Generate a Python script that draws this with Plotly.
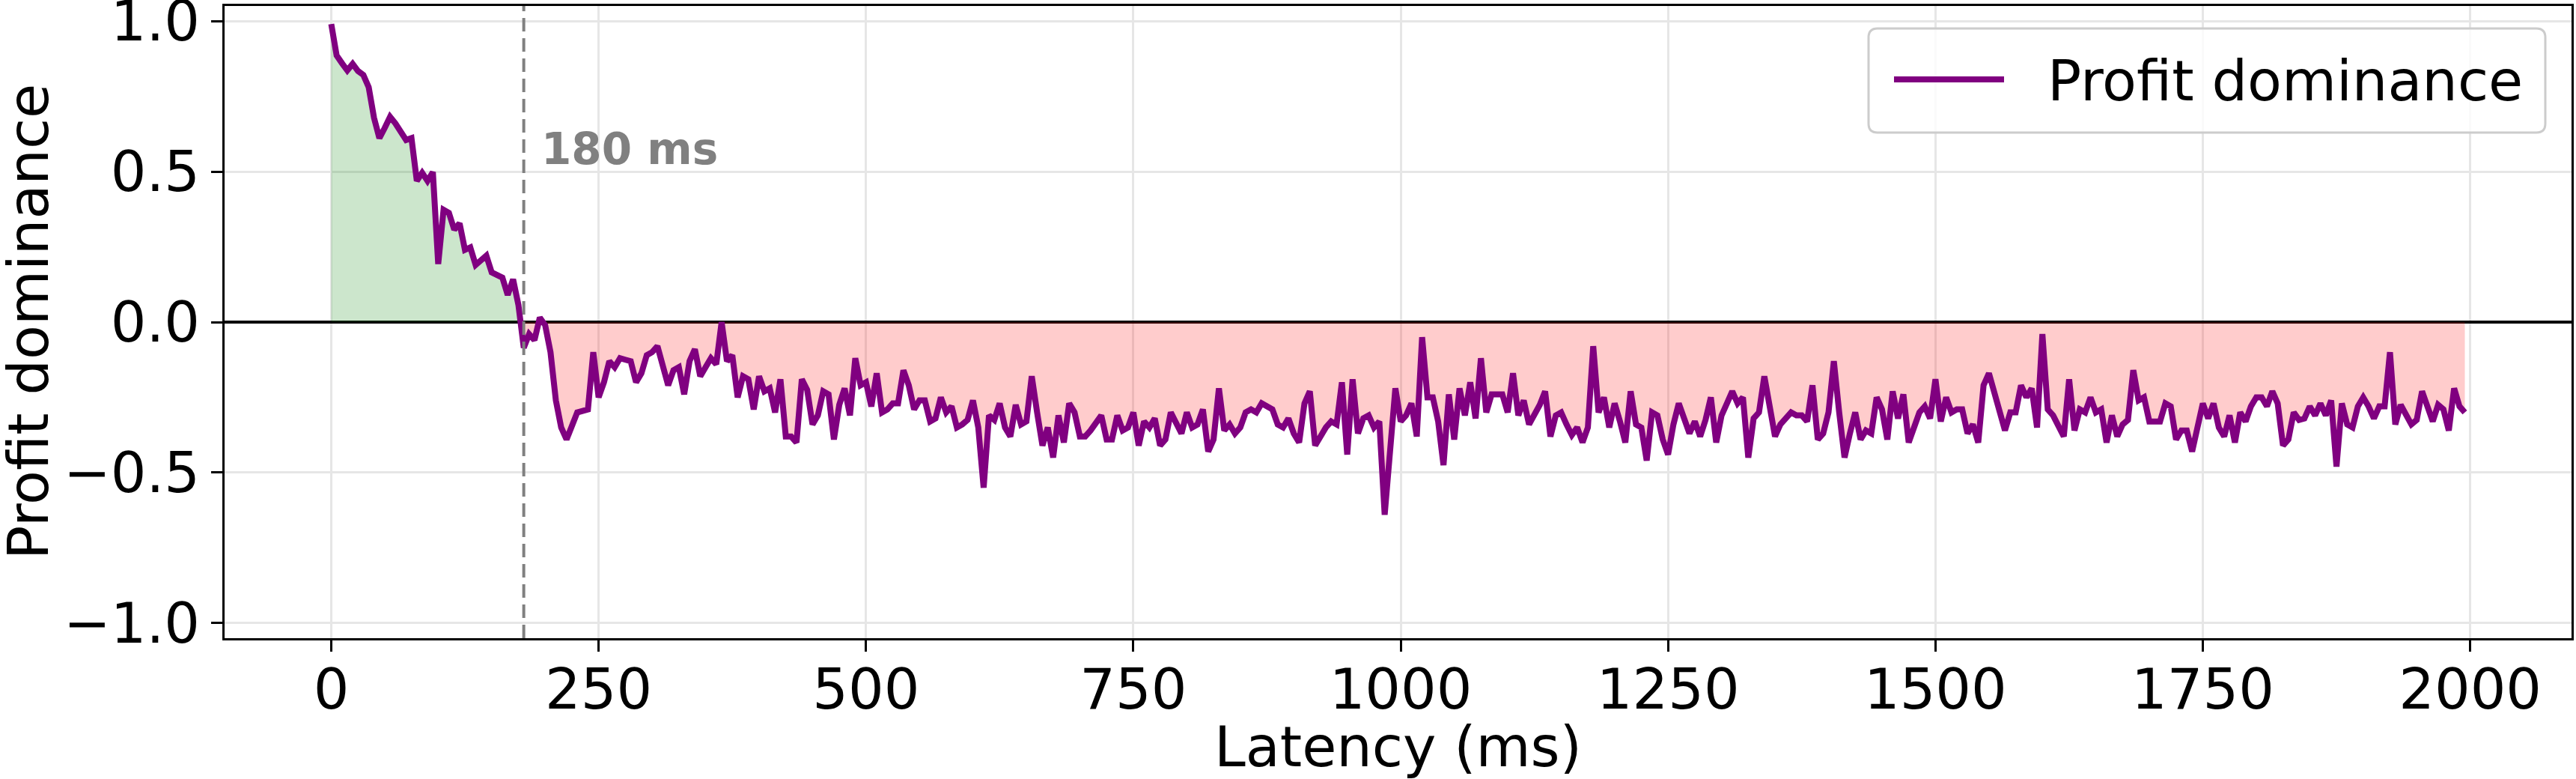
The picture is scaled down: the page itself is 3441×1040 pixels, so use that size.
import plotly.graph_objects as go

# ---------------- data ----------------
latency_ms = list(range(0, 2000, 5))
profit_dominance = [
    0.99, 0.886, 0.86, 0.836, 0.858, 0.834, 0.821, 0.78, 0.678, 0.611,
    0.645, 0.682, 0.66, 0.635, 0.605, 0.611, 0.469, 0.496, 0.469, 0.498,
    0.193, 0.373, 0.363, 0.307, 0.328, 0.24, 0.248, 0.19, 0.205, 0.221,
    0.165, 0.157, 0.148, 0.09, 0.142, 0.057, -0.085, -0.04, -0.06, 0.015,
    -0.01, -0.10, -0.26, -0.35, -0.39, -0.345, -0.30, -0.295, -0.29, -0.10,
    -0.25, -0.20, -0.13, -0.15, -0.12, -0.125, -0.13, -0.20, -0.17, -0.11,
    -0.10, -0.08, -0.15, -0.21, -0.16, -0.15, -0.24, -0.13, -0.09, -0.18,
    -0.15, -0.12, -0.14, 0.00, -0.13, -0.11, -0.25, -0.18, -0.19, -0.29,
    -0.18, -0.23, -0.22, -0.30, -0.19, -0.38, -0.38, -0.40, -0.19, -0.225,
    -0.34, -0.31, -0.23, -0.24, -0.39, -0.275, -0.22, -0.31, -0.12, -0.21,
    -0.20, -0.28, -0.17, -0.30, -0.29, -0.27, -0.27, -0.16, -0.21, -0.29,
    -0.26, -0.26, -0.33, -0.32, -0.25, -0.30, -0.28, -0.35, -0.34, -0.325,
    -0.26, -0.35, -0.55, -0.31, -0.325, -0.27, -0.35, -0.38, -0.275, -0.34,
    -0.33, -0.18, -0.30, -0.41, -0.35, -0.45, -0.31, -0.40, -0.27, -0.30,
    -0.38, -0.38, -0.36, -0.335, -0.31, -0.39, -0.39, -0.31, -0.36, -0.35,
    -0.30, -0.41, -0.33, -0.35, -0.32, -0.41, -0.39, -0.30, -0.34, -0.37,
    -0.30, -0.35, -0.34, -0.29, -0.43, -0.39, -0.22, -0.36, -0.34, -0.37,
    -0.35, -0.30, -0.29, -0.30, -0.27, -0.28, -0.29, -0.34, -0.35, -0.32,
    -0.37, -0.40, -0.27, -0.23, -0.41, -0.38, -0.35, -0.33, -0.34, -0.20,
    -0.44, -0.19, -0.37, -0.32, -0.31, -0.35, -0.33, -0.64, -0.41, -0.22,
    -0.33, -0.31, -0.27, -0.38, -0.05, -0.25, -0.25, -0.33, -0.475, -0.24,
    -0.39, -0.22, -0.31, -0.20, -0.32, -0.12, -0.30, -0.24, -0.24, -0.24,
    -0.30, -0.17, -0.31, -0.26, -0.34, -0.31, -0.275, -0.23, -0.38, -0.31,
    -0.30, -0.34, -0.375, -0.35, -0.40, -0.35, -0.08, -0.30, -0.25, -0.35,
    -0.27, -0.33, -0.40, -0.23, -0.34, -0.35, -0.46, -0.30, -0.31, -0.39,
    -0.44, -0.34, -0.27, -0.32, -0.37, -0.33, -0.38, -0.325, -0.25, -0.40,
    -0.31, -0.27, -0.23, -0.27, -0.25, -0.45, -0.32, -0.30, -0.18, -0.28,
    -0.38, -0.34, -0.32, -0.30, -0.31, -0.31, -0.33, -0.21, -0.39, -0.37,
    -0.30, -0.13, -0.30, -0.45, -0.37, -0.30, -0.39, -0.36, -0.37, -0.25,
    -0.29, -0.39, -0.23, -0.32, -0.24, -0.40, -0.35, -0.30, -0.28, -0.32,
    -0.19, -0.33, -0.25, -0.30, -0.29, -0.29, -0.37, -0.34, -0.40, -0.21,
    -0.17, -0.23, -0.30, -0.36, -0.30, -0.30, -0.21, -0.25, -0.22, -0.35,
    -0.04, -0.29, -0.31, -0.35, -0.38, -0.19, -0.36, -0.29, -0.30, -0.25,
    -0.30, -0.29, -0.40, -0.31, -0.38, -0.34, -0.325, -0.16, -0.26, -0.25,
    -0.33, -0.33, -0.33, -0.27, -0.28, -0.39, -0.36, -0.36, -0.43, -0.35,
    -0.27, -0.32, -0.27, -0.35, -0.38, -0.31, -0.40, -0.30, -0.33, -0.28,
    -0.25, -0.25, -0.28, -0.23, -0.27, -0.41, -0.39, -0.30, -0.325, -0.32,
    -0.28, -0.31, -0.27, -0.31, -0.26, -0.48, -0.27, -0.34, -0.35, -0.28,
    -0.25, -0.28, -0.32, -0.28, -0.28, -0.10, -0.34, -0.275, -0.31, -0.34,
    -0.325, -0.23, -0.28, -0.33, -0.275, -0.29, -0.36, -0.22, -0.28, -0.30,
]
threshold_ms = 180
threshold_label = "180 ms"
series_name = "Profit dominance"
x_title = "Latency (ms)"
y_title = "Profit dominance"
x_ticks = [0, 250, 500, 750, 1000, 1250, 1500, 1750, 2000]
y_ticks = [-1.0, -0.5, 0.0, 0.5, 1.0]
y_tick_labels = ["\u22121.0", "\u22120.5", "0.0", "0.5", "1.0"]

# ---------------- layout geometry (pixels) ----------------
W, H = 3441, 1040
ML, MR, MT, MB = 300, 6, 8, 188
PW, PH = W - ML - MR, H - MT - MB
FONT = "DejaVu Sans"
PURPLE = "#800080"


def px_to_paper_x(px):
    return (px - ML) / PW


def px_to_paper_y(py):
    return (H - MB - py) / PH


positive = [v if v > 0 else 0 for v in profit_dominance]
negative = [v if v < 0 else 0 for v in profit_dominance]

fig = go.Figure()
fig.add_trace(go.Scatter(x=latency_ms, y=positive, mode="lines", line=dict(width=0),
                         fill="tozeroy", fillcolor="rgba(0,128,0,0.2)",
                         hoverinfo="skip", showlegend=False))
fig.add_trace(go.Scatter(x=latency_ms, y=negative, mode="lines", line=dict(width=0),
                         fill="tozeroy", fillcolor="rgba(255,0,0,0.2)",
                         hoverinfo="skip", showlegend=False))
fig.add_trace(go.Scatter(x=latency_ms, y=profit_dominance, mode="lines",
                         line=dict(color=PURPLE, width=8), name=series_name,
                         showlegend=False))

axis_common = dict(
    showline=True, linecolor="black", linewidth=3, mirror=True,
    ticks="outside", ticklen=15, tickwidth=3, tickcolor="black",
    showgrid=True, gridcolor="#e6e6e6", gridwidth=3,
    tickfont=dict(family=FONT, size=75, color="black"),
    ticklabeloverflow="allow", automargin=False,
)

fig.update_layout(
    width=W, height=H, autosize=False,
    margin=dict(l=ML, r=MR, t=MT, b=MB, pad=0),
    paper_bgcolor="white", plot_bgcolor="white",
    font=dict(family=FONT, color="black"),
    xaxis=dict(range=[-99.75, 2094.75], tickvals=x_ticks, zeroline=False,
               ticklabelstandoff=-14, **axis_common),
    yaxis=dict(range=[-1.05, 1.05], tickvals=y_ticks, ticktext=y_tick_labels,
               zeroline=True, zerolinecolor="black", zerolinewidth=4, **axis_common),
    showlegend=False,
)

# threshold dashed line
fig.add_shape(type="line", xref="x", yref="paper", x0=threshold_ms, x1=threshold_ms,
              y0=0, y1=1, line=dict(color="gray", width=4, dash="18px,9px"), layer="above")

annotations = [
    dict(text=threshold_label, xref="x", yref="y", x=threshold_ms + 15, y=0.575,
         xanchor="left", yanchor="middle", showarrow=False,
         font=dict(family=FONT, size=58, color="gray", weight="bold")),
    dict(text=x_title, xref="paper", yref="paper", x=0.5, y=0, xanchor="center",
         yanchor="middle", yshift=-145, showarrow=False,
         font=dict(family=FONT, size=75, color="black")),
    dict(text=y_title, xref="paper", yref="paper", x=0, y=0.5, xanchor="center",
         yanchor="middle", xshift=-262, textangle=-90, showarrow=False,
         font=dict(family=FONT, size=75, color="black")),
]

# manual legend (rounded frame, long line sample, label)
lx0, lx1 = px_to_paper_x(2496), px_to_paper_x(3400)
ly0, ly1 = px_to_paper_y(177), px_to_paper_y(38)
rx, ry = 12 / PW, 12 / PH
path = (f"M {lx0+rx},{ly1} L {lx1-rx},{ly1} Q {lx1},{ly1} {lx1},{ly1-ry} "
        f"L {lx1},{ly0+ry} Q {lx1},{ly0} {lx1-rx},{ly0} L {lx0+rx},{ly0} "
        f"Q {lx0},{ly0} {lx0},{ly0+ry} L {lx0},{ly1-ry} Q {lx0},{ly1} {lx0+rx},{ly1} Z")
fig.add_shape(type="path", xref="paper", yref="paper", path=path,
              line=dict(color="#cccccc", width=3), fillcolor="rgba(255,255,255,0.8)",
              layer="above")
legend_y = px_to_paper_y(106)
fig.add_shape(type="line", xref="paper", yref="paper",
              x0=px_to_paper_x(2530), x1=px_to_paper_x(2677), y0=legend_y, y1=legend_y,
              line=dict(color=PURPLE, width=8), layer="above")
annotations.append(dict(text=series_name, xref="paper", yref="paper",
                        x=px_to_paper_x(2733), y=px_to_paper_y(108), xanchor="left",
                        yanchor="middle", showarrow=False,
                        font=dict(family=FONT, size=75, color="black")))

fig.update_layout(annotations=annotations)
fig.write_html("out.html")
